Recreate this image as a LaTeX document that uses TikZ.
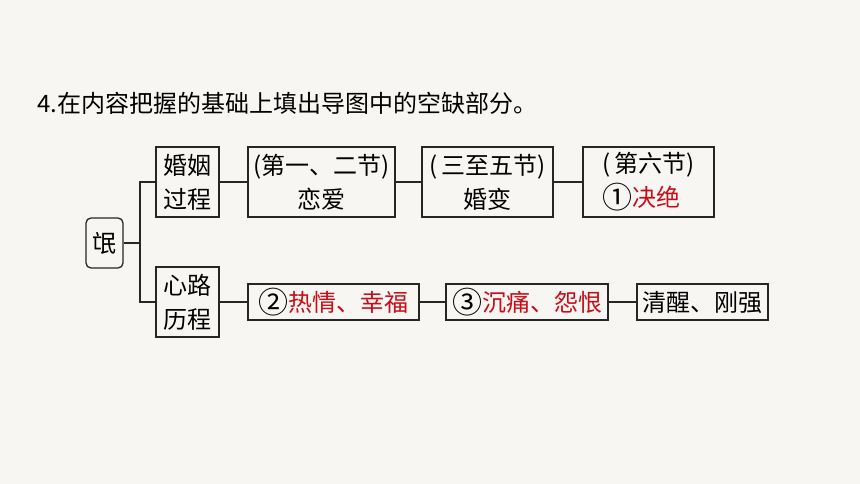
\documentclass[tikz,border=0pt]{standalone}
\usepackage{fontspec}
\usepackage{graphicx}
\setmainfont{Noto Sans CJK SC}
\definecolor{PaperClr}{rgb}{0.969,0.965,0.949}
\definecolor{AnsClr}{rgb}{0.78,0.05,0.1}
\definecolor{LineClr}{rgb}{0.15,0.15,0.15}
\newcommand{\circno}[1]{\raisebox{-0.08em}{\scalebox{1.25}{#1}}}

\begin{document}
\begin{tikzpicture}[x=1pt,y=-1pt,
  box/.style={draw=LineClr,line width=1.3pt,inner sep=0pt,align=center,
    font=\fontsize{24}{34}\selectfont},
  link/.style={draw=LineClr,line width=1.3pt}]
\fill[PaperClr] (0,0) rectangle (860,484);

\node[anchor=west,font=\fontsize{24}{28}\selectfont] (title) at (34,103) {4.在内容把握的基础上填出导图中的空缺部分。};

\node[box,rounded corners=5pt,minimum width=37pt,minimum height=50pt] (mang) at (104.5,243) {氓};

\node[box,minimum width=63pt,minimum height=70pt] (hyin) at (187.5,182) {婚姻\\过程};
\node[box,minimum width=63pt,minimum height=70pt] (xinl) at (187.5,302) {心路\\历程};

\node[box,minimum width=147pt,minimum height=70pt] (sec12) at (321.5,182) {(第一、二节)\\恋爱};
\node[box,minimum width=131pt,minimum height=70pt] (sec35) at (487.5,182) {(\,三至五节)\\婚变};
\node[box,align=left,minimum width=131pt,minimum height=70pt] (sec6) at (648.5,182) {(\,第六节)\\\circno{①}\textcolor{AnsClr}{决绝}};

\node[box,minimum width=171pt,minimum height=36pt] (rqxf) at (333.5,302) {\circno{②}\textcolor{AnsClr}{热情、幸福}};
\node[box,minimum width=162pt,minimum height=36pt] (ctyh) at (527,302) {\circno{③}\textcolor{AnsClr}{沉痛、怨恨}};
\node[box,minimum width=131pt,minimum height=36pt] (qxgq) at (702.5,302) {清醒、刚强};

\coordinate (fork) at (140,243);
\draw[link] (mang) -- (fork);
\draw[link] (hyin.west) -| (fork) |- (xinl.west);
\draw[link] (hyin) -- (sec12);
\draw[link] (sec12) -- (sec35);
\draw[link] (sec35) -- (sec6);
\draw[link] (xinl) -- (rqxf);
\draw[link] (rqxf) -- (ctyh);
\draw[link] (ctyh) -- (qxgq);
\end{tikzpicture}
\end{document}
